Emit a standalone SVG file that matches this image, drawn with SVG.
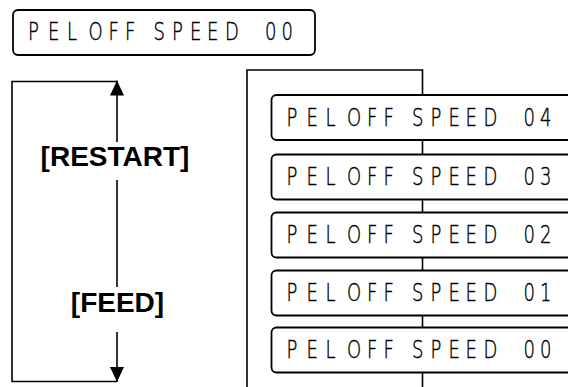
<svg xmlns="http://www.w3.org/2000/svg" width="568" height="387" viewBox="0 0 568 387">
<style>
.box{fill:#fff;stroke:#000;stroke-width:1.8}
.lcd{font-family:"DejaVu Sans",sans-serif;font-weight:200;font-size:25px;fill:#000;stroke:#000;stroke-width:0.45}
.lbl{font-family:"Liberation Sans",Arial,sans-serif;font-weight:bold;font-size:28px;fill:#000;text-anchor:middle}
.ln{fill:none;stroke:#000;stroke-width:1.6}
</style>
<defs>
<marker id="ah" markerUnits="userSpaceOnUse" markerWidth="15" markerHeight="14" viewBox="0 0 15 14" refX="15" refY="7" orient="auto">
<path d="M0,0 L15,7 L0,14 z" fill="#000"/>
</marker>
<rect id="lcdbox" class="box" x="0" y="0" width="302" height="45" rx="5"/>
</defs>
<g id="connectors">
<path class="ln" d="M117,81.5 H12 V381.5 H117"/>
<line class="ln" x1="117" y1="142" x2="117" y2="80.5" marker-end="url(#ah)"/>
<line class="ln" x1="117" y1="180" x2="117" y2="287"/>
<line class="ln" x1="117" y1="332" x2="117" y2="382" marker-end="url(#ah)"/>
<path class="ln" d="M247,387 V70 H422.5 V387"/>
</g>
<g id="label-restart"><text class="lbl" x="115" y="166">[RESTART]</text></g>
<g id="label-feed"><text class="lbl" x="117.5" y="312">[FEED]</text></g>
<g id="node-top" transform="translate(13,10)">
<use href="#lcdbox"/>
<text class="lcd" y="30" transform="scale(0.72,1)"><tspan x="20.8 48.6 75">PEL</tspan> <tspan x="105 132.6 155.6">OFF</tspan> <tspan x="195.1 220.8 245.8 269.4 294.4">SPEED</tspan> <tspan x="350 372.9">00</tspan></text>
</g>
<g id="node-04" transform="translate(271.5,95)">
<use href="#lcdbox"/>
<text class="lcd" y="31" transform="scale(0.72,1)"><tspan x="20.8 48.6 75">PEL</tspan> <tspan x="105 132.6 155.6">OFF</tspan> <tspan x="195.1 220.8 245.8 269.4 294.4">SPEED</tspan> <tspan x="350 372.9">04</tspan></text>
</g>
<g id="node-03" transform="translate(271.5,154.5)">
<use href="#lcdbox"/>
<text class="lcd" y="31" transform="scale(0.72,1)"><tspan x="20.8 48.6 75">PEL</tspan> <tspan x="105 132.6 155.6">OFF</tspan> <tspan x="195.1 220.8 245.8 269.4 294.4">SPEED</tspan> <tspan x="350 372.9">03</tspan></text>
</g>
<g id="node-02" transform="translate(271.5,212.5)">
<use href="#lcdbox"/>
<text class="lcd" y="31" transform="scale(0.72,1)"><tspan x="20.8 48.6 75">PEL</tspan> <tspan x="105 132.6 155.6">OFF</tspan> <tspan x="195.1 220.8 245.8 269.4 294.4">SPEED</tspan> <tspan x="350 372.9">02</tspan></text>
</g>
<g id="node-01" transform="translate(271.5,270.5)">
<use href="#lcdbox"/>
<text class="lcd" y="31" transform="scale(0.72,1)"><tspan x="20.8 48.6 75">PEL</tspan> <tspan x="105 132.6 155.6">OFF</tspan> <tspan x="195.1 220.8 245.8 269.4 294.4">SPEED</tspan> <tspan x="350 372.9">01</tspan></text>
</g>
<g id="node-00" transform="translate(271.5,327.5)">
<use href="#lcdbox"/>
<text class="lcd" y="31" transform="scale(0.72,1)"><tspan x="20.8 48.6 75">PEL</tspan> <tspan x="105 132.6 155.6">OFF</tspan> <tspan x="195.1 220.8 245.8 269.4 294.4">SPEED</tspan> <tspan x="350 372.9">00</tspan></text>
</g>
</svg>
